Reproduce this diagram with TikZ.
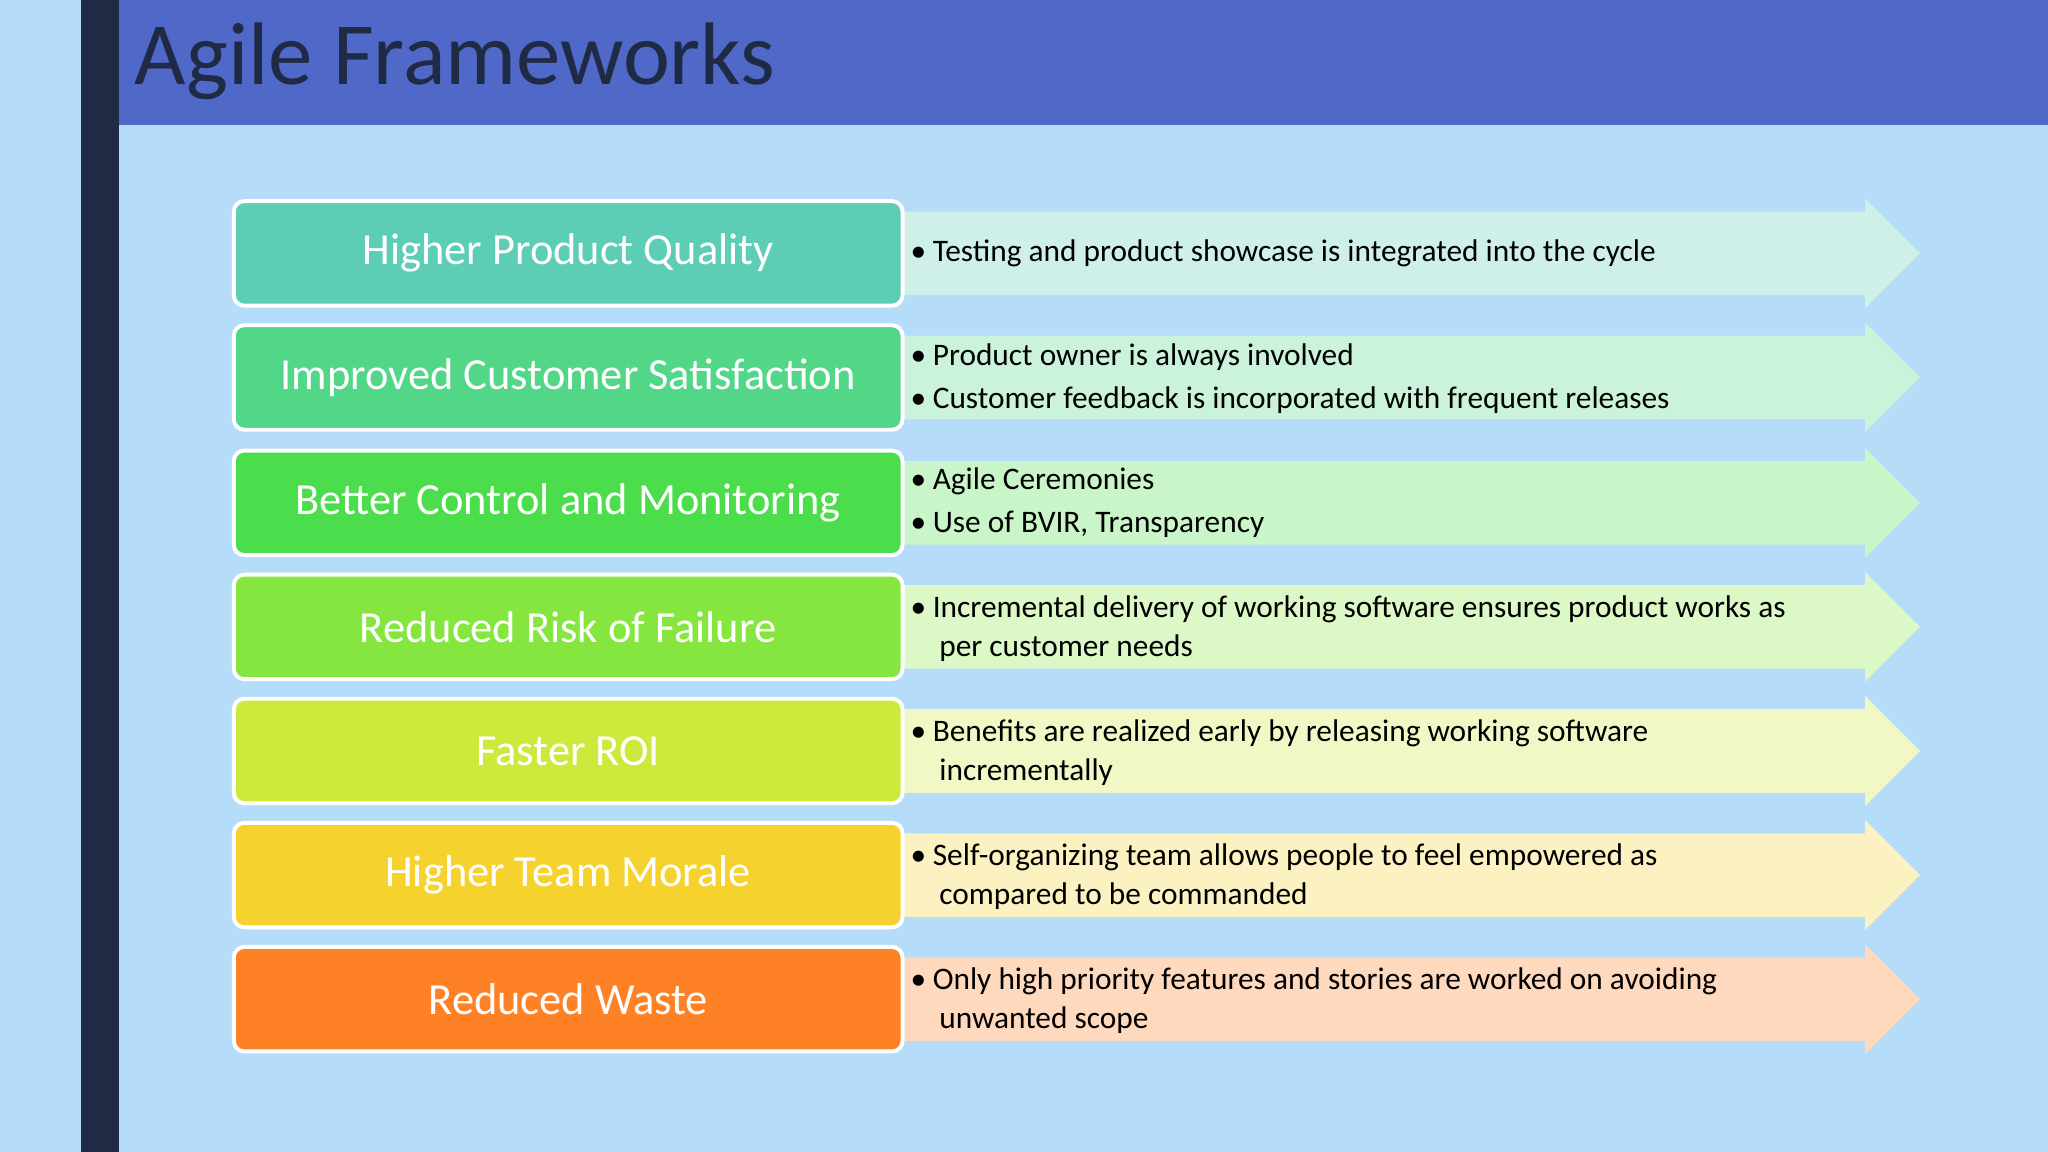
\documentclass[tikz,border=0pt]{standalone}
\usepackage{fontspec}
\setmainfont{Carlito}
\definecolor{bg}{HTML}{B5DCF9}
\definecolor{bar}{HTML}{1F2A44}
\definecolor{band}{HTML}{5068C8}
\definecolor{cA}{HTML}{5ECDB5}
\definecolor{cB}{HTML}{52D688}
\definecolor{cC}{HTML}{4CDD4C}
\definecolor{cD}{HTML}{86E640}
\definecolor{cE}{HTML}{CCEA3C}
\definecolor{cF}{HTML}{F5D22E}
\definecolor{cG}{HTML}{FF8125}
\tikzset{
 lbox/.style={draw=white,line width=3pt,rounded corners=8pt,minimum width=512pt,minimum height=80pt,text=white,font=\fontsize{34}{40}\selectfont,inner sep=0pt},
 btxt/.style={anchor=west,font=\fontsize{24}{30}\selectfont,inner sep=0pt,text=black,align=left}
}
\newcommand{\myrow}[4]{%
 \fill[#2!30!white] (692,#1-32) -- (1428,#1-32) -- (1428,#1-42) -- (1470,#1) -- (1428,#1+42) -- (1428,#1+32) -- (692,#1+32) -- cycle;
 \node[lbox,fill=#2] (#3) at (435,#1) {#4};
}
\begin{document}
\begin{tikzpicture}[x=1pt,y=-1pt]
\useasboundingbox (0,0) rectangle (1568,882);
\fill[bg] (0,0) rectangle (1568,882);
\fill[bar] (62,0) rectangle (91,882);
\fill[band] (91,0) rectangle (1568,96);
\node[anchor=base west,inner sep=0pt,text=bar,font=\fontsize{68}{70}\selectfont] (title) at (103,65) {Agile Frameworks};
\myrow{194}{cA}{r1}{Higher Product Quality}
\myrow{289}{cB}{r2}{Improved Customer Satisfaction}
\myrow{385}{cC}{r3}{Better Control and Monitoring}
\myrow{480}{cD}{r4}{Reduced Risk of Failure}
\myrow{575}{cE}{r5}{Faster ROI}
\myrow{670}{cF}{r6}{Higher Team Morale}
\myrow{765}{cG}{r7}{Reduced Waste}
\newcommand{\bl}{\makebox[17pt][l]{\textbullet}}
\node[btxt] (t1) at (697,194) {\bl Testing and product showcase is integrated into the cycle};
\node[btxt] (t2) at (697,290) {\bl Product owner is always involved\\[3pt]\bl Customer feedback is incorporated with frequent releases};
\node[btxt] (t3) at (697,385) {\bl Agile Ceremonies\\[3pt]\bl Use of BVIR, Transparency};
\node[btxt] (t4) at (697,481) {\bl Incremental delivery of working software ensures product works as\\\hspace{22pt}per customer needs};
\node[btxt] (t5) at (697,576) {\bl Benefits are realized early by releasing working software\\\hspace{22pt}incrementally};
\node[btxt] (t6) at (697,671) {\bl Self-organizing team allows people to feel empowered as\\\hspace{22pt}compared to be commanded};
\node[btxt] (t7) at (697,766) {\bl Only high priority features and stories are worked on avoiding\\\hspace{22pt}unwanted scope};
\end{tikzpicture}
\end{document}
